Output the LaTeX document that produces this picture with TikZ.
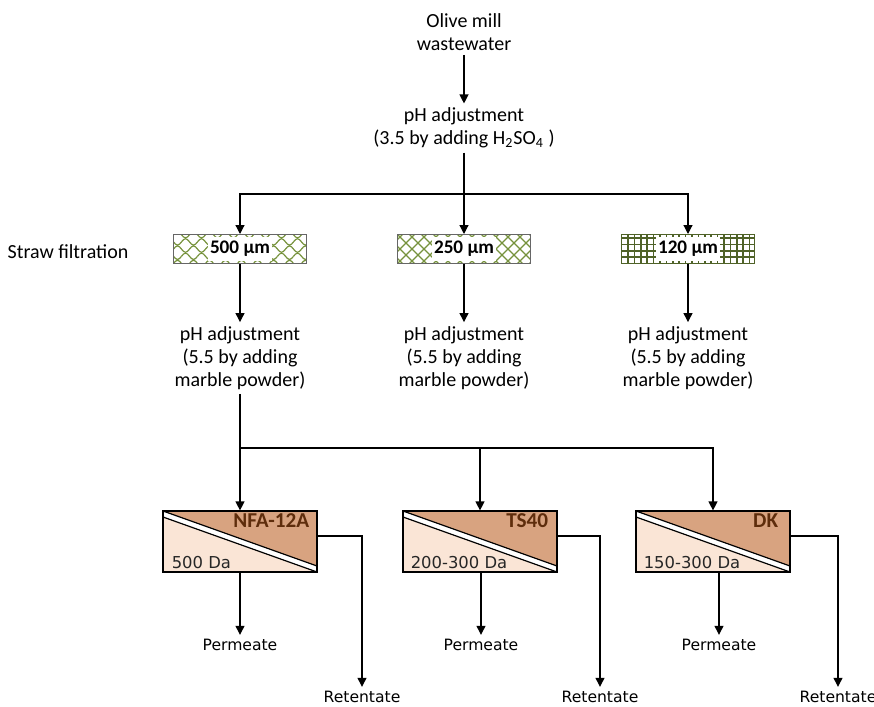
\documentclass[tikz,border=0pt]{standalone}
\usepackage{fontspec}
\setmainfont{Carlito}
\newfontfamily\verdfont{DejaVu Sans}
\usetikzlibrary{arrows.meta,positioning}

\definecolor{strawgreen}{RGB}{118,146,60}
\definecolor{strawdark}{RGB}{79,98,40}
\definecolor{membtan}{RGB}{216,163,128}
\definecolor{membpale}{RGB}{250,229,214}
\definecolor{membbrown}{RGB}{94,45,12}

\begin{document}
\begin{tikzpicture}[
  x=0.5pt, y=-0.5pt,
  txt/.style={align=center, font=\fontsize{10}{11.5}\selectfont, inner sep=2pt},
  flow/.style={font=\verdfont\fontsize{7.8}{9}\selectfont, inner sep=2pt},
  arr/.style={-{Triangle[length=4.5pt,width=4.5pt]}, line width=0.6pt},
  lin/.style={line width=0.6pt},
  filt/.style={draw=black!60, line width=0.5pt, minimum width=66.5pt, minimum height=14.5pt, inner sep=0pt},
  filtlbl/.style={fill=white, inner sep=1pt, minimum height=12pt, font=\bfseries\fontsize{9.6}{11}\selectfont},
  scales/.style={path picture={
    \foreach \r in {0,...,4} \foreach \k in {-1,...,9}
      \draw[strawgreen, line width=0.6pt] ([shift={({\k*8pt+mod(\r,2)*4pt},{\r*3.6pt})}]path picture bounding box.south west)
        sin ++(2pt,1.6pt) cos ++(2pt,-1.6pt) sin ++(2pt,-1.6pt) cos ++(2pt,1.6pt);
  }},
  diamonds/.style={path picture={
    \foreach \k in {-3,...,12} {
      \draw[strawgreen, line width=0.6pt] ([xshift=\k*6pt]path picture bounding box.south west) -- ++(16pt,16pt);
      \draw[strawgreen, line width=0.6pt] ([xshift=\k*6pt]path picture bounding box.north west) -- ++(16pt,-16pt);
    }
  }},
  grid/.style={path picture={
    \foreach \k in {0,...,21}
      \draw[strawdark, line width=0.8pt] ([xshift=\k*3.2pt]path picture bounding box.south west) -- ++(0pt,16pt);
    \foreach \k in {0,...,4}
      \draw[strawdark, line width=0.8pt] ([yshift=\k*3.2pt]path picture bounding box.south west) -- ++(70pt,0pt);
  }},
  memb/.style={draw, fill=white, line width=0.6pt, minimum width=77pt, minimum height=30.5pt, inner sep=0pt,
    path picture={
      \filldraw[fill=membtan, draw=black, line width=0.6pt] (path picture bounding box.north west)
        -- (path picture bounding box.north east) -- ([yshift=3pt]path picture bounding box.south east) -- cycle;
      \filldraw[fill=membpale, draw=black, line width=0.6pt] ([yshift=-3pt]path picture bounding box.north west)
        -- (path picture bounding box.south east) -- (path picture bounding box.south west) -- cycle;
  }},
  membname/.style={anchor=north east, inner sep=0pt, text=membbrown, font=\bfseries\fontsize{10.6}{12}\selectfont},
  membcut/.style={anchor=south west, inner sep=0pt, text=black!85, font=\verdfont\fontsize{8.2}{10}\selectfont}
]
  \useasboundingbox (0,0) rectangle (874,707);

  % feed and acidification
  \node[txt] (src) at (464,32) {Olive mill\\wastewater};
  \node[txt] (ph1) at (464,128) {pH adjustment\\(3.5 by adding H\textsubscript{2}SO\textsubscript{4} )};
  \coordinate (b1) at (464,194);

  % straw filters
  \node[txt] (straw) at (68,252) {Straw filtration};
  \node[filt, scales] (f1) at (240,249) {};
  \node[filt, diamonds] (f2) at (464,249) {};
  \node[filt, grid, draw=strawdark] (f3) at (688,249) {};
  \node[filtlbl] (f1l) at (f1) {500 µm};
  \node[filtlbl] (f2l) at (f2) {250 µm};
  \node[filtlbl] (f3l) at (f3) {120 µm};

  \node[txt] (ph2a) at (240,358) {pH adjustment\\(5.5 by adding\\marble powder)};
  \node[txt] (ph2b) at (464,358) {pH adjustment\\(5.5 by adding\\marble powder)};
  \node[txt] (ph2c) at (688,358) {pH adjustment\\(5.5 by adding\\marble powder)};
  \coordinate (b2) at (240,448);

  % membranes
  \node[memb] (m1) at (240,541.5) {};
  \node[memb] (m2) at (480,541.5) {};
  \node[memb] (m3) at (713,541.5) {};
  \node[membname] (m1n) at ([shift={(-4pt,-1.5pt)}]m1.north east) {NFA-12A};
  \node[membname] (m2n) at ([shift={(-4.5pt,-1.5pt)}]m2.north east) {TS40};
  \node[membname] (m3n) at ([shift={(-6pt,-1.5pt)}]m3.north east) {DK};
  \node[membcut] (m1c) at ([shift={(4.5pt,1.5pt)}]m1.south west) {500 Da};
  \node[membcut] (m2c) at ([shift={(4pt,1.5pt)}]m2.south west) {200-300 Da};
  \node[membcut] (m3c) at ([shift={(4pt,1.5pt)}]m3.south west) {150-300 Da};

  \node[flow] (p1) at (240,645) {Permeate};
  \node[flow] (p2) at (481,645) {Permeate};
  \node[flow] (p3) at (719,645) {Permeate};
  \node[flow] (r1) at (362,697) {Retentate};
  \node[flow] (r2) at (600,697) {Retentate};
  \node[flow] (r3) at (838,697) {Retentate};

  % connectors
  \draw[arr] (src) -- (ph1);
  \draw[lin] (ph1) -- (b1);
  \draw[arr] (b1) -| (f1);
  \draw[arr] (b1) -- (f2);
  \draw[arr] (b1) -| (f3);
  \draw[arr] (f1) -- (ph2a);
  \draw[arr] (f2) -- (ph2b);
  \draw[arr] (f3) -- (ph2c);
  \draw[lin] (ph2a) -- (b2);
  \draw[arr] (b2) -- (m1);
  \draw[arr] (b2) -| (m2);
  \draw[arr] (b2) -| (m3);
  \draw[arr] (m1.south -| p1) -- (p1);
  \draw[arr] (m2.south -| p2) -- (p2);
  \draw[arr] (m3.south -| p3) -- (p3);
  \draw[arr] ([yshift=2.75pt]m1.east) -| (r1);
  \draw[arr] ([yshift=2.75pt]m2.east) -| (r2);
  \draw[arr] ([yshift=2.75pt]m3.east) -| (r3);
\end{tikzpicture}
\end{document}
